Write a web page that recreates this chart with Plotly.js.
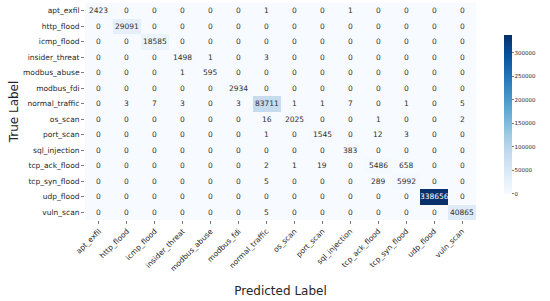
<!DOCTYPE html>
<html>
<head>
<meta charset="utf-8">
<script src="https://cdn.plot.ly/plotly-3.0.1.min.js"></script>
<style>html,body{margin:0;padding:0;background:#fff;}#chart{width:550px;height:301px;}</style>
</head>
<body>
<div id="chart"></div>
<script>
const labels = ["apt_exfil","http_flood","icmp_flood","insider_threat","modbus_abuse","modbus_fdi","normal_traffic","os_scan","port_scan","sql_injection","tcp_ack_flood","tcp_syn_flood","udp_flood","vuln_scan"];
const row_apt_exfil      = [2423,0,0,0,0,0,1,0,0,1,0,0,0,0];
const row_http_flood     = [0,29091,0,0,0,0,0,0,0,0,0,0,0,0];
const row_icmp_flood     = [0,0,18585,0,0,0,0,0,0,0,0,0,0,0];
const row_insider_threat = [0,0,0,1498,1,0,3,0,0,0,0,0,0,0];
const row_modbus_abuse   = [0,0,0,1,595,0,0,0,0,0,0,0,0,0];
const row_modbus_fdi     = [0,0,0,0,0,2934,0,0,0,0,0,0,0,0];
const row_normal_traffic = [0,3,7,3,0,3,83711,1,1,7,0,1,0,5];
const row_os_scan        = [0,0,0,0,0,0,16,2025,0,0,1,0,0,2];
const row_port_scan      = [0,0,0,0,0,0,1,0,1545,0,12,3,0,0];
const row_sql_injection  = [0,0,0,0,0,0,0,0,0,383,0,0,0,0];
const row_tcp_ack_flood  = [0,0,0,0,0,0,2,1,19,0,5486,658,0,0];
const row_tcp_syn_flood  = [0,0,0,0,0,0,5,0,0,0,289,5992,0,0];
const row_udp_flood      = [0,0,0,0,0,0,0,0,0,0,0,0,338656,0];
const row_vuln_scan      = [0,0,0,0,0,0,5,0,0,0,0,0,0,40865];
const colorbarTicks = [0,50000,100000,150000,200000,250000,300000];

const z = [row_apt_exfil,row_http_flood,row_icmp_flood,row_insider_threat,row_modbus_abuse,row_modbus_fdi,row_normal_traffic,row_os_scan,row_port_scan,row_sql_injection,row_tcp_ack_flood,row_tcp_syn_flood,row_udp_flood,row_vuln_scan];
const zmax = Math.max(...z.map(r => Math.max(...r)));

const blues = [
  [0,'#f7fbff'],[0.125,'#deebf7'],[0.25,'#c6dbef'],[0.375,'#9ecae1'],
  [0.5,'#6baed6'],[0.625,'#4292c6'],[0.75,'#2171b5'],[0.875,'#08519c'],[1,'#08306b']
];

const annotations = [];
z.forEach((row, i) => row.forEach((v, j) => {
  annotations.push({
    x: labels[j], y: labels[i], xref: 'x', yref: 'y', text: String(v), showarrow: false,
    font: {family: 'DejaVu Sans', size: 7.5, color: (v / zmax > 0.6) ? '#ffffff' : '#303030'}
  });
}));
annotations.push({
  text: 'True Label', xref: 'paper', yref: 'paper', x: -0.182, y: 0.5,
  xanchor: 'center', yanchor: 'middle', textangle: -90, showarrow: false,
  font: {size: 12, family: 'DejaVu Sans', color: '#262626'}
});

const trace = {
  type: 'heatmap', x: labels, y: labels, z: z,
  colorscale: blues, zmin: 0, zmax: zmax, xgap: 0, ygap: 0,
  hoverinfo: 'skip',
  colorbar: {
    x: 1.046, xanchor: 'left', xref: 'paper',
    y: 0.488, yanchor: 'middle',
    thickness: 8, lenmode: 'pixels', len: 179,
    outlinewidth: 0,
    tickvals: colorbarTicks, ticktext: colorbarTicks.map(String),
    ticks: 'outside', ticklen: 2, tickwidth: 0.6, tickcolor: '#262626',
    tickfont: {family: 'DejaVu Sans', size: 5.5, color: '#262626'}
  }
};

const layout = {
  width: 550, height: 301,
  margin: {l: 85, r: 54, t: 3, b: 81},
  paper_bgcolor: '#ffffff', plot_bgcolor: '#ffffff',
  font: {family: 'DejaVu Sans', color: '#262626'},
  xaxis: {
    type: 'category', tickangle: -45, ticks: 'outside', ticklen: 3, tickwidth: 0.6, tickcolor: '#262626',
    tickfont: {size: 7.5, family: 'DejaVu Sans', color: '#262626'},
    showgrid: false, zeroline: false, showline: false,
    title: {text: 'Predicted Label', font: {size: 12, family: 'DejaVu Sans', color: '#262626'}, standoff: 14}
  },
  yaxis: {
    type: 'category', autorange: 'reversed', ticks: 'outside', ticklen: 3, tickwidth: 0.6, tickcolor: '#262626',
    tickfont: {size: 7.5, family: 'DejaVu Sans', color: '#262626'},
    showgrid: false, zeroline: false, showline: false
  },
  annotations: annotations
};

Plotly.newPlot('chart', [trace], layout, {displayModeBar: false, staticPlot: true});
</script>
</body>
</html>
